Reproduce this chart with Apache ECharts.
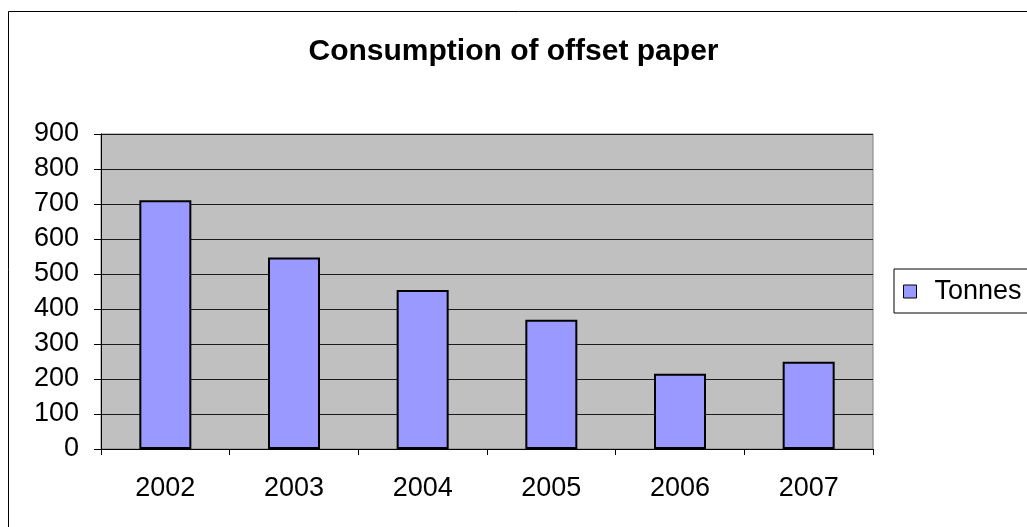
<!DOCTYPE html>
<html>
<head>
<meta charset="utf-8">
<script src="https://cdn.jsdelivr.net/npm/echarts@6/dist/echarts.min.js"></script>
<style>
  html, body { margin: 0; padding: 0; background: #fff; }
  #chart { width: 1027px; height: 527px; }
</style>
</head>
<body>
<div id="chart"></div>
<script>
// Yearly consumption of offset paper, in tonnes
const years = ['2002', '2003', '2004', '2005', '2006', '2007'];
const tonnes = [711, 547, 454, 369, 215, 249];
const seriesName = 'Tonnes';
const chartTitle = 'Consumption of offset paper';

const font = 'Arial, "Liberation Sans", sans-serif';

const chart = echarts.init(document.getElementById('chart'), null, { renderer: 'canvas' });

chart.setOption({
  backgroundColor: '#ffffff',
  animation: false,
  title: {
    text: chartTitle,
    left: 'center',
    top: 37,
    padding: 0,
    textStyle: { fontFamily: font, fontSize: 30, fontWeight: 'bold', color: '#000', lineHeight: 30 }
  },
  legend: {
    data: [seriesName],
    left: 894,
    top: 269,
    orient: 'vertical',
    padding: [9, 60, 8, 9],
    borderColor: '#000',
    borderWidth: 1,
    backgroundColor: '#fff',
    itemWidth: 13,
    itemHeight: 13,
    icon: 'rect',
    itemStyle: { borderColor: '#000', borderWidth: 1 },
    textStyle: { fontFamily: font, fontSize: 27, color: '#000', lineHeight: 27, padding: [0, 0, 0, 13] }
  },
  graphic: [{
    type: 'rect',
    shape: { x: 8.5, y: 11.5, width: 1100, height: 600 },
    style: { fill: 'none', stroke: '#000', lineWidth: 1 },
    z: -1
  }],
  grid: {
    left: 101,
    right: 154,
    top: 134,
    bottom: 78,
    show: true,
    backgroundColor: '#C0C0C0',
    borderColor: '#808080',
    borderWidth: 1
  },
  xAxis: {
    type: 'category',
    data: years,
    axisLine: { lineStyle: { color: '#000', width: 1 } },
    axisTick: { show: true, alignWithLabel: false, length: 6, lineStyle: { color: '#000' } },
    axisLabel: { fontFamily: font, fontSize: 27, color: '#000', margin: 26, lineHeight: 27 }
  },
  yAxis: {
    type: 'value',
    min: 0,
    max: 900,
    interval: 100,
    axisLine: { show: true, lineStyle: { color: '#000', width: 1 } },
    axisTick: { show: true, length: 7, lineStyle: { color: '#000' } },
    axisLabel: { fontFamily: font, fontSize: 27, color: '#000', margin: 22 },
    splitLine: { show: true, lineStyle: { color: '#1a1a1a', width: 1 } }
  },
  series: [{
    name: seriesName,
    type: 'bar',
    data: tonnes,
    barWidth: 52,
    itemStyle: { color: '#9999FF', borderColor: '#000', borderWidth: 2 }
  }]
});
</script>
</body>
</html>
